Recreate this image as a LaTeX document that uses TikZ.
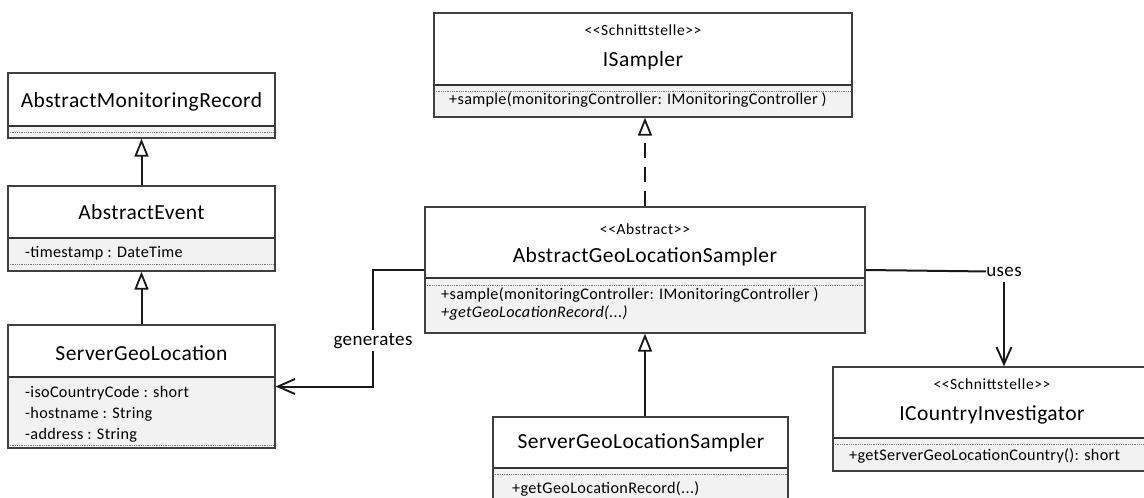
\documentclass[tikz,border=0pt]{standalone}
\usepackage{fontspec}
\setmainfont{Carlito}
\newfontfamily\umlname[LetterSpace=2]{Carlito}
\newfontfamily\umlsmall[LetterSpace=2]{Carlito}
\newfontfamily\umlstereo[LetterSpace=4]{Carlito}
\usetikzlibrary{fit,arrows.meta}

\tikzset{
  compfill/.style={fill=black!5},
  classframe/.style={draw=black!75, line width=1.3pt, inner sep=0pt},
  divider/.style={draw=black!80, line width=1.6pt},
  dotsep/.style={draw=black!55, line width=0.6pt, dash pattern=on 1pt off 0.8pt},
  nametext/.style={font=\umlname\fontsize{21.5}{25}\selectfont, inner sep=0pt, anchor=base},
  stereotext/.style={font=\umlstereo\fontsize{15.5}{18}\selectfont, inner sep=0pt, anchor=base},
  membertext/.style={font=\umlsmall\fontsize{16.2}{19}\selectfont, inner sep=0pt, anchor=base west},
  labeltext/.style={font=\umlname\fontsize{19}{23}\selectfont, inner sep=0pt, anchor=base},
  conn/.style={line width=2pt, draw=black!90},
  inherit/.style={conn, -{Triangle[open, length=18pt, width=14pt, line width=1.8pt]}},
  realize/.style={inherit, dash pattern=on 15pt off 9pt},
  assoc/.style={conn, -{Straight Barb[length=17pt, width=15pt, line width=1.9pt]}}
}

% class box: name, x1, y1, x2, y2, divider y, dotted separator y
\newcommand{\umlbox}[7]{%
  \fill[compfill] (#2,#6) rectangle (#4,#5);
  \draw[dotsep] (#2,#7) -- (#4,#7);
  \draw[divider] (#2,#6) -- (#4,#6);
  \node[classframe, fit={(#2,#3) (#4,#5)}] (#1) {};
}

\begin{document}
\begin{tikzpicture}[x=1pt, y=-1pt]
\useasboundingbox (0,0) rectangle (1144,498);

% left column: record hierarchy
\umlbox{amr}{8}{73}{275}{138}{126}{132}
\node[nametext] (amrname) at (141.5,107) {AbstractMonitoringRecord};

\umlbox{ae}{8}{186}{275}{271}{238}{264}
\node[nametext] (aename) at (141.5,219) {AbstractEvent};
\node[membertext] (aeattr) at (25,257) {-timestamp : DateTime};

\umlbox{sgl}{8}{325}{275}{448}{377}{445}
\node[nametext] (sglname) at (141.5,360) {ServerGeoLocation};
\node[membertext] (sglattra) at (25,397) {-isoCountryCode : short};
\node[membertext] (sglattrb) at (25,418) {-hostname : String};
\node[membertext] (sglattrc) at (25,439) {-address : String};

% sampler interface
\umlbox{isam}{434}{13}{852}{117}{85}{91}
\node[stereotext] (isamst) at (643,35) {<<Schnittstelle>>};
\node[nametext] (isamname) at (643,66) {ISampler};
\node[membertext] (isamop) at (449,104) {+sample(monitoringController: IMonitoringController )};

% abstract sampler
\umlbox{agls}{425}{207}{865}{333}{278}{285}
\node[stereotext] (aglsst) at (645,234) {<<Abstract>>};
\node[nametext] (aglsname) at (645,262) {AbstractGeoLocationSampler};
\node[membertext] (aglsopa) at (441,299) {+sample(monitoringController: IMonitoringController )};
\node[membertext, font=\umlsmall\fontsize{16.2}{19}\selectfont\itshape] (aglsopb) at (441,317) {+getGeoLocationRecord(...)};

% concrete sampler
\umlbox{sgls}{493}{417}{788}{505}{468}{474}
\node[nametext] (sglsname) at (641,448) {ServerGeoLocationSampler};
\node[membertext] (sglsop) at (512,493) {+getGeoLocationRecord(...)};

% country investigator interface
\umlbox{ici}{833}{367}{1151}{471}{438}{444}
\node[stereotext] (icist) at (992,389) {<<Schnittstelle>>};
\node[nametext] (iciname) at (992,420) {ICountryInvestigator};
\node[membertext] (iciop) at (849,460) {+getServerGeoLocationCountry(): short};

% generalisations and realisation
\draw[inherit] (ae.north) -- (amr.south);
\draw[inherit] (sgl.north) -- (ae.south);
\draw[inherit] (sgls.north -| agls.south) -- (agls.south);
\draw[realize] (agls.north) -- (agls.north |- isam.south);

% "generates" association
\coordinate (genbend) at (373,270);
\draw[assoc] (agls.west) -- (genbend) |- (sgl.east);
\node[labeltext, fill=white, inner sep=3pt] (genlabel) at (373,345) {generates};

% "uses" dependency
\node[labeltext] (useslabel) at (1004,276) {uses};
\draw[conn] (agls.east) -- (useslabel.west);
\draw[assoc, shorten <=6pt] (useslabel.south) -- (useslabel.south |- ici.north);
\end{tikzpicture}
\end{document}
